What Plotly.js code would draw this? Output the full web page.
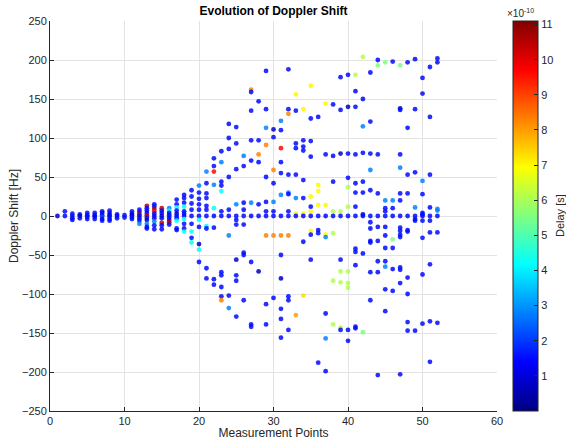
<!DOCTYPE html>
<html><head><meta charset="utf-8">
<script src="https://cdn.plot.ly/plotly-3.0.1.min.js"></script>
<style>html,body{margin:0;padding:0;background:#fff}#chart{width:566px;height:440px}</style>
</head><body><div id="chart"></div>
<script>
// Measurement point index (x)
const measurementPoint = [
1,
2,2,
3,3,3,3,
4,4,4,
5,5,5,5,
6,6,6,6,
7,7,7,7,7,7,
8,8,8,8,8,8,
9,9,9,
10,10,
11,11,11,11,11,
12,12,12,12,12,12,12,
13,13,13,13,13,13,13,13,13,13,
14,14,14,14,14,14,14,14,14,14,
15,15,15,15,15,15,15,15,
16,16,16,16,16,16,16,16,
17,17,17,17,17,17,17,17,17,17,
18,18,18,18,18,18,18,18,18,18,18,
19,19,19,19,19,19,19,19,19,
20,20,20,20,20,20,20,20,20,20,20,
21,21,21,21,21,21,21,21,21,21,21,
22,22,22,22,22,22,22,22,22,
23,23,23,23,23,23,23,23,23,23,23,23,
24,24,24,24,24,24,24,24,24,
25,25,25,25,25,25,25,25,25,25,25,
26,26,26,26,26,26,26,26,26,
27,27,27,27,27,27,27,27,27,27,
28,28,28,28,28,28,28,
29,29,29,29,29,29,29,29,29,29,29,
30,30,30,30,30,30,30,30,30,
31,31,31,31,31,31,31,31,31,31,31,31,31,
32,32,32,32,32,32,32,32,32,32,32,32,
33,33,33,33,33,33,33,33,33,
34,34,34,34,34,34,34,34,34,34,
35,35,35,35,35,35,35,35,35,35,35,
36,36,36,36,36,36,36,36,
37,37,37,37,37,37,37,37,37,
38,38,38,38,38,38,38,38,
39,39,39,39,39,39,39,39,39,39,
40,40,40,40,40,40,40,40,40,40,40,40,
41,41,41,41,41,41,41,41,41,41,41,41,41,
42,42,42,42,42,42,42,42,42,42,
43,43,43,43,43,43,43,43,43,43,43,43,
44,44,44,44,44,44,44,44,44,44,
45,45,45,45,45,45,45,45,45,45,45,45,
46,46,46,46,46,46,46,46,
47,47,47,47,47,47,47,47,47,47,47,47,47,47,47,47,
48,48,48,48,48,48,48,48,48,48,48,
49,49,49,49,49,49,49,49,
50,50,50,50,50,50,50,50,50,50,50,
51,51,51,51,51,51,51,51,51,51,
52,52,52,52,52,52,52
];
// Doppler shift [Hz]
const dopplerShiftHz = [
0,
6,0,
3,0,-3,-5,
2,0,-3,
4,1,-1,-4,
4,1,-1,-4,
6,4,1,-1,-4,-6,
7,4,1,-1,-4,-6,
2,0,-3,
1,-2,
6,3,1,-2,-4,
8,5,2,0,-3,-6,-10,
13,10,7,4,1,-2,-5,-10,-14,-16,
15,12,9,6,3,0,-3,-7,-12,-17,
10,7,4,0,-3,-9,-12,-17,
10,7,4,1,-2,-5,-8,-11,
21,15,11,7,3,0,-3,-6,-16,-18,
27,23,17,12,6,3,0,-4,-10,-16,-20,
33,25,16,8,0,-10,-20,-28,-34,
39,30,22,15,8,0,-5,-14,-36,-43,-59,
57,42,29,23,13,8,0,-13,-16,-67,-80,
74,64,57,40,10,0,-15,-81,-88,
83,69,44,39,32,6,0,-72,-76,-91,-103,-108,
118,100,86,50,8,0,-25,-102,-118,
114,93,60,15,0,-5,-11,-56,-76,-83,-129,
77,64,17,8,0,-11,-47,-50,-108,
162,159,135,97,71,17,0,-59,-139,-142,
147,97,79,69,15,0,-71,
186,137,113,91,50,18,6,0,-25,-113,-139,
111,101,59,42,18,6,0,-25,-105,
122,110,87,69,55,27,0,-25,-50,-80,-119,-132,-156,
188,137,131,53,30,28,6,0,-25,-103,-108,-146,
156,135,93,87,53,23,3,0,-127,
137,97,89,84,46,23,3,0,-33,-102,
167,125,96,76,25,12,6,0,-19,-24,-56,
127,40,32,14,0,-18,-22,-188,
144,79,14,0,-24,-27,-125,-157,-199,
143,77,44,6,0,-22,-83,-139,
178,136,80,6,0,-56,-71,-85,-143,-146,
181,140,80,49,37,12,0,-71,-86,-92,-146,-160,
181,160,140,79,42,30,12,0,-42,-46,-63,-142,-144,
204,150,115,81,44,30,2,0,-48,-149,
184,121,80,59,33,0,-8,-16,-32,-34,-72,-108,
200,193,79,29,0,-14,-32,-58,-72,-204,
197,20,10,6,0,-14,-25,-41,-58,-65,-94,-122,
198,20,10,0,-30,-41,-68,-96,
193,138,136,79,62,29,20,0,-15,-19,-24,-27,-66,-69,-86,-203,
197,113,53,29,0,-18,-20,-79,-100,-136,-147,
201,137,56,11,0,-4,-6,-147,
177,157,45,28,4,2,0,-6,-28,-75,-138,
191,127,53,11,0,-6,-21,-62,-135,-187,
202,197,9,7,0,-21,-137
];
// Delay in units of 1e-10 s
const delayE10 = [
0.8,
1.5,1.5,
1.5,1.5,1.5,1.5,
1.5,0.8,1.5,
1.5,1.5,1.5,1.5,
1.5,1.5,0.8,1.5,
1.5,1.5,1.5,2.2,1.5,1.5,
1.5,1.5,0.8,1.5,1.5,1.5,
1.5,1.5,1.5,
1.5,1.5,
1.5,1.5,0.8,1.5,1.5,
1.5,1.5,10.5,1.5,1.5,1.5,2.8,
10.5,1.5,1.5,1.5,10.5,1.5,0.8,2.8,1.5,1.5,
1.5,1.5,10.5,9.6,1.5,1.5,1.5,2.8,1.5,1.5,
10.5,1.5,1.5,0.8,1.5,10.5,1.5,1.5,
2.8,4.2,1.5,1.5,1.5,1.5,10.5,1.5,
1.5,1.5,4.2,1.5,0.8,1.5,1.5,4.2,1.5,1.5,
1.5,1.5,1.5,4.2,1.5,1.5,1.5,4.2,1.5,1.5,4.2,
1.5,1.5,1.5,1.5,1.5,1.5,4.2,1.5,4.2,
2.8,1.5,1.5,1.5,1.5,1.5,4.2,1.5,0.8,4.2,1.5,
2.8,1.5,1.5,1.5,1.5,1.5,1.5,4.2,1.5,1.5,1.5,
1.5,1.5,9.6,2.8,4.2,1.5,1.5,1.5,1.5,
1.5,2.8,1.5,1.5,4.2,1.5,1.5,1.5,1.5,1.5,1.5,8.3,
1.5,1.5,1.5,1.5,1.5,1.5,2.8,1.5,2.8,
1.5,1.5,1.5,2.8,1.5,1.5,1.5,0.8,1.5,1.5,1.5,
2.8,1.5,1.5,1.5,1.5,1.5,1.5,1.5,1.5,
8.3,1.5,1.5,1.5,1.5,2.8,1.5,1.5,1.5,1.5,
1.5,1.5,8.3,1.5,1.5,1.5,0.8,
1.5,1.5,2.8,8.3,1.5,1.5,1.5,1.5,8.3,1.5,1.5,
0.8,1.5,8.3,1.5,2.8,1.5,1.5,8.3,1.5,
2.8,1.5,9.6,1.5,1.5,2.8,1.5,8.3,1.5,0.8,1.5,1.5,1.5,
1.5,1.5,8.3,1.5,2.8,1.5,1.5,1.5,8.3,1.5,1.5,1.5,
7.0,1.5,1.5,1.5,1.5,2.8,7.0,1.5,8.0,
7.0,1.5,1.5,1.5,1.5,1.5,7.0,1.5,1.5,7.3,
7.0,1.5,1.5,1.5,7.0,1.5,7.0,1.5,7.0,1.5,1.5,
1.5,7.0,7.0,7.0,1.5,1.5,1.5,1.5,
7.0,1.5,7.0,1.5,6.8,2.8,1.5,2.8,1.5,
1.5,1.5,1.5,6.1,1.5,6.1,6.1,6.1,
1.5,1.5,0.8,6.1,1.5,1.5,6.1,6.1,6.1,1.5,
1.5,0.8,1.5,1.5,6.1,6.1,1.5,6.1,6.1,6.1,1.5,1.5,
6.1,1.5,1.5,1.5,1.5,1.5,1.5,1.5,1.5,1.5,1.5,1.5,1.5,
6.1,1.5,2.8,1.5,1.5,1.5,0.8,1.5,1.5,5.5,
1.5,1.5,1.5,2.8,1.5,1.5,1.5,1.5,1.5,1.5,1.5,1.5,
1.5,5.5,1.5,1.5,1.5,1.5,1.5,1.5,1.5,1.5,
5.5,2.8,1.5,1.5,1.5,1.5,1.5,1.5,1.5,2.8,1.5,1.5,
1.5,2.8,1.5,1.5,5.5,1.5,1.5,1.5,
5.5,0.8,1.5,1.5,2.8,1.5,1.5,1.5,1.5,1.5,1.5,1.5,1.5,1.5,1.5,1.5,
1.5,1.5,1.5,1.5,1.5,1.5,1.5,1.5,1.5,1.5,1.5,
1.5,1.5,1.5,2.8,1.5,1.5,1.5,1.5,
1.5,1.5,2.8,1.5,1.5,1.5,1.5,1.5,1.5,1.5,1.5,
1.5,1.5,1.5,1.5,1.5,1.5,1.5,1.5,1.5,1.5,
1.5,1.5,2.8,2.8,1.5,1.5,1.5
];
const xTickVals = [0,10,20,30,40,50,60];
const yTickVals = [-250,-200,-150,-100,-50,0,50,100,150,200,250];
const delayTickVals = [1,2,3,4,5,6,7,8,9,10,11];

if (measurementPoint.length !== dopplerShiftHz.length || dopplerShiftHz.length !== delayE10.length) {
  console.error('length mismatch', measurementPoint.length, dopplerShiftHz.length, delayE10.length);
}

const jet = [[0,'rgb(0,0,128)'],[0.125,'rgb(0,0,255)'],[0.375,'rgb(0,255,255)'],[0.625,'rgb(255,255,0)'],[0.875,'rgb(255,0,0)'],[1,'rgb(128,0,0)']];
const FONT = 'Liberation Sans, Arial, Helvetica, sans-serif';
const INK = '#262626';

const trace = {
  type: 'scatter', mode: 'markers',
  x: measurementPoint, y: dopplerShiftHz,
  marker: {
    size: 4.8, color: delayE10, colorscale: jet, cmin: 0, cmax: 11.1,
    opacity: 0.85,
    line: {width: 0},
    showscale: true,
    colorbar: {
      x: 1.036, xanchor: 'left', xpad: 0, ypad: 0,
      y: 0.5, yanchor: 'middle', len: 1, lenmode: 'fraction',
      thickness: 25, thicknessmode: 'pixels',
      outlinewidth: 1, outlinecolor: INK,
      tickvals: delayTickVals, ticks: 'inside', ticklen: 4, tickcolor: INK,
      tickfont: {family: FONT, size: 11, color: INK}
    }
  },
  hoverinfo: 'skip'
};

const axisCommon = {
  showline: true, linecolor: INK, linewidth: 1, mirror: false,
  ticks: 'inside', ticklen: 4, tickcolor: INK,
  showgrid: true, gridcolor: '#e3e3e3', gridwidth: 1, zeroline: false,
  tickfont: {family: FONT, size: 11, color: INK}
};

const layout = {
  width: 566, height: 440,
  margin: {l: 50, r: 69, t: 21, b: 29, pad: 0, autoexpand: false},
  paper_bgcolor: '#ffffff', plot_bgcolor: '#ffffff',
  showlegend: false,
  font: {family: FONT, color: INK},
  title: {text: '<b>Evolution of Doppler Shift</b>', font: {family: FONT, size: 12, color: '#000'},
          x: 0.5, xref: 'paper', xanchor: 'center', y: 1 - 11/440, yref: 'container', yanchor: 'middle'},
  xaxis: Object.assign({}, axisCommon, {range: [0, 60], tickvals: xTickVals, automargin: false,
          title: {text: 'Measurement Points', font: {family: FONT, size: 12, color: INK}, standoff: 0}}),
  yaxis: Object.assign({}, axisCommon, {range: [-250, 250], tickvals: yTickVals, automargin: false,
          title: {text: 'Doppler Shift [Hz]', font: {family: FONT, size: 12, color: INK}, standoff: 0}}),
  annotations: [
    {text: '×10<sup>-10</sup>', xref: 'paper', yref: 'paper', x: 1.018, y: 1.02, xanchor: 'left', yanchor: 'middle',
     showarrow: false, font: {family: FONT, size: 10, color: INK}},
    {text: 'Delay [s]', xref: 'paper', yref: 'paper', x: 1.141, y: 0.5, xanchor: 'center', yanchor: 'middle',
     textangle: -90, showarrow: false, font: {family: FONT, size: 11, color: INK}}
  ]
};

Plotly.newPlot('chart', [trace], layout, {staticPlot: true, displayModeBar: false});
</script>
</body></html>
